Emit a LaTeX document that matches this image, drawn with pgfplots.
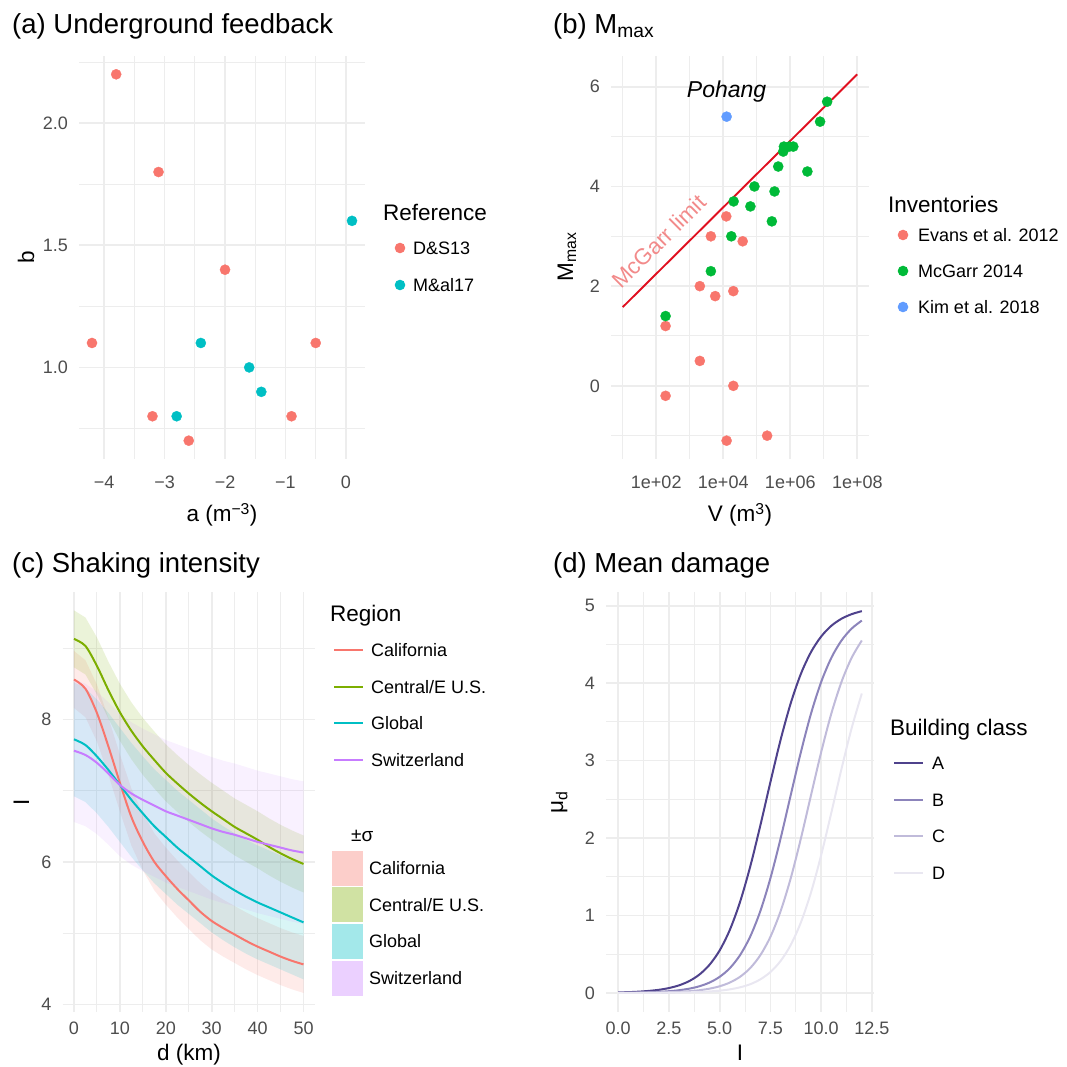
\documentclass[border=0pt]{standalone}
\usepackage{fontspec}
\setmainfont{Liberation Sans}
\usepackage{pgfplots}
\usepackage{pgfplotstable}
\pgfplotsset{compat=1.18}

\definecolor{gridgray}{HTML}{EDEDED}
\definecolor{tickgray}{HTML}{4D4D4D}
\definecolor{hueRed}{HTML}{F8766D}
\definecolor{hueCyan}{HTML}{00BFC4}
\definecolor{hueGreen}{HTML}{00BA38}
\definecolor{hueBlue}{HTML}{619CFF}
\definecolor{hueOlive}{HTML}{7CAE00}
\definecolor{huePurple}{HTML}{C77CFF}
\definecolor{limitRed}{HTML}{E01020}
\definecolor{limitText}{HTML}{F28A8A}
\definecolor{classA}{HTML}{4F428C}
\definecolor{classB}{HTML}{8C84BB}
\definecolor{classC}{HTML}{C0BBDA}
\definecolor{classD}{HTML}{E9E7F1}

\newcommand{\tickfont}{\fontsize{18}{21}\selectfont}
\newcommand{\labfont}{\fontsize{22.5}{26}\selectfont}
\newcommand{\titfont}{\fontsize{27.5}{32}\selectfont}

% ---------------- data ----------------
% (a) feedback parameters
\pgfplotstableread{
a b
-3.8 2.2
-3.1 1.8
-2.0 1.4
-4.2 1.1
-0.5 1.1
-3.2 0.8
-0.9 0.8
-2.6 0.7
}\dsThirteen
\pgfplotstableread{
a b
0.1 1.6
-2.4 1.1
-1.6 1.0
-1.4 0.9
-2.8 0.8
}\malSeventeen

% (b) injected volume vs maximum magnitude
\pgfplotstableread{
V M
190 1.2
190 -0.2
2000 2.0
2000 0.5
4270 3.0
5750 1.8
12300 3.4
12600 -1.1
20000 1.9
20000 0.0
38000 2.9
204000 -1.0
}\evans
\pgfplotstableread{
V M
190 1.4
4270 2.3
17400 3.0
20400 3.7
64600 3.6
85100 4.0
282000 3.3
339000 3.9
437000 4.4
617000 4.7
646000 4.8
933000 4.8
1230000 4.8
3240000 4.3
7760000 5.3
12600000 5.7
}\mcgarr
\pgfplotstableread{
V M
12600 5.4
}\kim

% (c) intensity attenuation (mean curves)
\pgfplotstableread{
d cal cen glo swi
0    8.56 9.13 7.72 7.56
2.5  8.43 9.03 7.64 7.50
5    8.09 8.75 7.48 7.39
7.5  7.62 8.41 7.29 7.24
10   7.11 8.10 7.08 7.08
12.5 6.63 7.84 6.87 6.96
15   6.28 7.62 6.68 6.87
17.5 6.00 7.43 6.50 6.79
20   5.80 7.25 6.35 6.71
22.5 5.62 7.10 6.20 6.65
25   5.46 6.96 6.07 6.59
27.5 5.30 6.83 5.94 6.53
30   5.17 6.71 5.81 6.47
32.5 5.07 6.60 5.70 6.42
35   4.98 6.49 5.60 6.38
37.5 4.89 6.40 5.51 6.33
40   4.81 6.31 5.43 6.28
42.5 4.74 6.21 5.36 6.24
45   4.67 6.12 5.29 6.20
47.5 4.61 6.04 5.22 6.16
50   4.56 5.97 5.15 6.13
}\shake

% (d) mean damage grade per building class
\pgfplotstableread{
I A B C D
0    0.007 0.002 0.001 0.000
0.5  0.010 0.004 0.002 0.001
1    0.016 0.006 0.002 0.001
1.5  0.026 0.009 0.004 0.001
2    0.040 0.014 0.006 0.002
2.5  0.063 0.022 0.009 0.003
3    0.098 0.035 0.014 0.005
3.5  0.153 0.055 0.022 0.008
4    0.237 0.086 0.035 0.012
4.5  0.364 0.134 0.055 0.019
5    0.550 0.208 0.086 0.029
5.5  0.815 0.320 0.134 0.046
6    1.173 0.487 0.208 0.072
6.5  1.629 0.726 0.320 0.112
7    2.161 1.056 0.487 0.175
7.5  2.726 1.483 0.726 0.270
8    3.270 1.996 1.056 0.413
8.5  3.743 2.557 1.483 0.620
9    4.122 3.112 1.996 0.912
9.5  4.404 3.610 2.557 1.300
10   4.604 4.018 3.112 1.782
10.5 4.742 4.329 3.610 2.330
11   4.833 4.552 4.018 2.895
11.5 4.892 4.706 4.329 3.421
12   4.931 4.809 4.552 3.867
}\damage

\pgfplotsset{
  gg/.style={
    scale only axis,
    anchor=south west,
    axis line style={draw=none},
    major tick length=0pt,
    minor tick length=0pt,
    tick style={draw=none},
    grid=both,
    major grid style={draw=gridgray, line width=1.6pt},
    minor grid style={draw=gridgray, line width=1.0pt},
    tick label style={font=\tickfont, text=tickgray, inner sep=0pt},
    yticklabel style={anchor=east, xshift=-11pt},
    legend cell align=left,
    legend style={draw=none, fill=none, inner sep=0pt, outer sep=0pt,
      font=\tickfont, text=black, anchor=north west,
      at={(axis description cs:0,0)},
      nodes={inner sep=0pt, text height=13pt, text depth=0pt}},
  },
  dotkey/.style={legend image code/.code={%
      \path[draw=none, fill=none] (0pt,-6.5pt) rectangle (16pt,6.5pt);
      \path[draw=none, fill=#1] (8pt,0pt) circle (5.3pt);}},
  linekey/.style={legend image code/.code={%
      \path[draw=none, fill=none] (0pt,-6.5pt) rectangle (29pt,6.5pt);
      \path[draw=#1, line width=2pt] (0pt,0pt) -- (29pt,0pt);}},
  boxkey/.style={legend image code/.code={%
      \path[draw=none, fill=#1, fill opacity=0.36] (0pt,-17.5pt) rectangle (31pt,17.5pt);}},
  pts/.style={only marks, mark=*, mark size=5.1pt, color=#1,
      mark options={line width=0.3pt}, forget plot},
  band/.style={fill=#1, fill opacity=0.15, draw=none, forget plot},
}

\begin{document}
\begin{tikzpicture}
\path[use as bounding box] (0pt,0pt) rectangle (1067pt,1066pt);

% ---------- (a) Underground feedback ----------
\begin{axis}[gg, at={(79pt,607pt)}, width=286pt, height=403pt,
  xmin=-4.415, xmax=0.315, ymin=0.625, ymax=2.275,
  xtick={-4,-3,-2,-1,0}, xticklabels={−4,−3,−2,−1,0},
  minor xtick={-3.5,-2.5,-1.5,-0.5},
  ytick={1,1.5,2}, yticklabels={1.0,1.5,2.0},
  minor ytick={0.75,1.25,1.75,2.25},
  xticklabel style={yshift=-16.5pt},
  legend style={xshift=313pt, yshift=217.5pt, row sep=24pt,
    /tikz/every odd column/.append style={column sep=5pt}},
]
\addplot[pts=hueRed] table[x=a,y=b] {\dsThirteen};
\addplot[pts=hueCyan] table[x=a,y=b] {\malSeventeen};
\addlegendimage{dotkey=hueRed}\addlegendentry{D\&S13}
\addlegendimage{dotkey=hueCyan}\addlegendentry{M\&al17}
\end{axis}

% ---------- (b) Mmax ----------
\begin{axis}[gg, at={(611pt,607pt)}, width=258pt, height=403pt,
  xmode=log, log basis x=10,
  xmin=4.4668, xmax=2.2387e8, ymin=-1.4675, ymax=6.6175,
  xtick={1e2,1e4,1e6,1e8}, xticklabels={1e+02,1e+04,1e+06,1e+08},
  minor xtick={1e1,1e3,1e5,1e7},
  ytick={0,2,4,6}, yticklabels={0,2,4,6},
  minor ytick={-1,1,3,5},
  xticklabel style={yshift=-16.5pt},
  legend style={xshift=284pt, yshift=230.5pt, row sep=23pt,
    /tikz/every odd column/.append style={column sep=7pt}},
]
\addplot[limitRed, line width=1.9pt, forget plot] coordinates {(10,1.58) (1e8,6.25)};
\addplot[pts=hueRed] table[x=V,y=M] {\evans};
\addplot[pts=hueGreen] table[x=V,y=M] {\mcgarr};
\addplot[pts=hueBlue] table[x=V,y=M] {\kim};
\node[font=\fontsize{23}{26}\selectfont\itshape, inner sep=0pt] at (axis cs:12600,5.9) {Pohang};
\node[font=\labfont, text=limitText, rotate=44.9, inner sep=0pt] at (axis cs:120,2.9) {McGarr limit};
\addlegendimage{dotkey=hueRed}\addlegendentry{Evans et al. 2012}
\addlegendimage{dotkey=hueGreen}\addlegendentry{McGarr 2014}
\addlegendimage{dotkey=hueBlue}\addlegendentry{Kim et al. 2018}
\end{axis}

% ---------- (c) Shaking intensity ----------
\begin{axis}[gg, at={(62.5pt,54pt)}, width=252.5pt, height=420pt,
  xmin=-2.5, xmax=52.5, ymin=3.892, ymax=9.788,
  xtick={0,10,20,30,40,50}, xticklabels={0,10,20,30,40,50},
  minor xtick={5,15,25,35,45},
  ytick={4,6,8}, yticklabels={4,6,8},
  minor ytick={5,7,9},
  xticklabel style={yshift=-9.5pt},
  legend style={xshift=270.5pt, yshift=368.5pt, row sep=23.5pt,
    /tikz/every odd column/.append style={column sep=7pt}},
]
% +/- sigma bands: upper bound outwards, lower bound back
\addplot[band=hueRed] coordinates {
 (0,8.96) (2.5,8.83) (5,8.49) (7.5,8.02) (10,7.51) (12.5,7.03) (15,6.68) (17.5,6.40) (20,6.20) (22.5,6.02) (25,5.86)
 (27.5,5.70) (30,5.57) (32.5,5.47) (35,5.38) (37.5,5.29) (40,5.21) (42.5,5.14) (45,5.07) (47.5,5.01) (50,4.96)
 (50,4.16) (47.5,4.21) (45,4.27) (42.5,4.34) (40,4.41) (37.5,4.49) (35,4.58) (32.5,4.67) (30,4.77) (27.5,4.90)
 (25,5.06) (22.5,5.22) (20,5.40) (17.5,5.60) (15,5.88) (12.5,6.23) (10,6.71) (7.5,7.22) (5,7.69) (2.5,8.03) (0,8.16)
} -- cycle;
\addplot[band=hueOlive] coordinates {
 (0,9.53) (2.5,9.43) (5,9.15) (7.5,8.81) (10,8.50) (12.5,8.24) (15,8.02) (17.5,7.83) (20,7.65) (22.5,7.50) (25,7.36)
 (27.5,7.23) (30,7.11) (32.5,7.00) (35,6.89) (37.5,6.80) (40,6.71) (42.5,6.61) (45,6.52) (47.5,6.44) (50,6.37)
 (50,5.57) (47.5,5.64) (45,5.72) (42.5,5.81) (40,5.91) (37.5,6.00) (35,6.09) (32.5,6.20) (30,6.31) (27.5,6.43)
 (25,6.56) (22.5,6.70) (20,6.85) (17.5,7.03) (15,7.22) (12.5,7.44) (10,7.70) (7.5,8.01) (5,8.35) (2.5,8.63) (0,8.73)
} -- cycle;
\addplot[band=hueCyan] coordinates {
 (0,8.52) (2.5,8.44) (5,8.28) (7.5,8.09) (10,7.88) (12.5,7.67) (15,7.48) (17.5,7.30) (20,7.15) (22.5,7.00) (25,6.87)
 (27.5,6.74) (30,6.61) (32.5,6.50) (35,6.40) (37.5,6.31) (40,6.23) (42.5,6.16) (45,6.09) (47.5,6.02) (50,5.95)
 (50,4.35) (47.5,4.42) (45,4.49) (42.5,4.56) (40,4.63) (37.5,4.71) (35,4.80) (32.5,4.90) (30,5.01) (27.5,5.14)
 (25,5.27) (22.5,5.40) (20,5.55) (17.5,5.70) (15,5.88) (12.5,6.07) (10,6.28) (7.5,6.49) (5,6.68) (2.5,6.84) (0,6.92)
} -- cycle;
\addplot[band=huePurple, fill opacity=0.11] coordinates {
 (0,8.56) (2.5,8.50) (5,8.39) (7.5,8.24) (10,8.08) (12.5,7.96) (15,7.87) (17.5,7.79) (20,7.71) (22.5,7.65) (25,7.59)
 (27.5,7.53) (30,7.47) (32.5,7.42) (35,7.38) (37.5,7.33) (40,7.28) (42.5,7.24) (45,7.20) (47.5,7.16) (50,7.13)
 (50,5.13) (47.5,5.16) (45,5.20) (42.5,5.24) (40,5.28) (37.5,5.33) (35,5.38) (32.5,5.42) (30,5.47) (27.5,5.53)
 (25,5.59) (22.5,5.65) (20,5.71) (17.5,5.79) (15,5.87) (12.5,5.96) (10,6.08) (7.5,6.24) (5,6.39) (2.5,6.50) (0,6.56)
} -- cycle;
\addplot[hueRed, line width=2pt, smooth, tension=0.5, forget plot] table[x=d,y=cal] {\shake};
\addplot[hueOlive, line width=2pt, smooth, tension=0.5, forget plot] table[x=d,y=cen] {\shake};
\addplot[hueCyan, line width=2pt, smooth, tension=0.5, forget plot] table[x=d,y=glo] {\shake};
\addplot[huePurple, line width=2pt, smooth, tension=0.5, forget plot] table[x=d,y=swi] {\shake};
\addlegendimage{linekey=hueRed}\addlegendentry{California}
\addlegendimage{linekey=hueOlive}\addlegendentry{Central/E U.S.}
\addlegendimage{linekey=hueCyan}\addlegendentry{Global}
\addlegendimage{linekey=huePurple}\addlegendentry{Switzerland}
\end{axis}
% second key of (c): the sigma bands
\begin{axis}[gg, hide axis, at={(62.5pt,54pt)}, width=252.5pt, height=420pt,
  xmin=0, xmax=1, ymin=0, ymax=1,
  legend style={xshift=269.5pt, yshift=161.5pt, row sep=1.7pt,
    /tikz/every odd column/.append style={column sep=6pt}},
]
\addplot[draw=none, forget plot] coordinates {(0,0) (1,1)};
\addlegendimage{boxkey=hueRed}\addlegendentry{California}
\addlegendimage{boxkey=hueOlive}\addlegendentry{Central/E U.S.}
\addlegendimage{boxkey=hueCyan}\addlegendentry{Global}
\addlegendimage{boxkey=huePurple}\addlegendentry{Switzerland}
\end{axis}

% ---------- (d) Mean damage ----------
\begin{axis}[gg, at={(606pt,54pt)}, width=268pt, height=420pt,
  xmin=-0.6, xmax=12.6, ymin=-0.2465, ymax=5.178,
  xtick={0,2.5,5,7.5,10,12.5}, xticklabels={0.0,2.5,5.0,7.5,10.0,12.5},
  minor xtick={1.25,3.75,6.25,8.75,11.25},
  ytick={0,1,2,3,4,5}, yticklabels={0,1,2,3,4,5},
  minor ytick={0.5,1.5,2.5,3.5,4.5},
  xticklabel style={yshift=-9.5pt},
  legend style={xshift=287pt, yshift=255.5pt, row sep=23.5pt,
    /tikz/every odd column/.append style={column sep=8pt}},
]
\addplot[classA, line width=2pt, smooth, forget plot] table[x=I,y=A] {\damage};
\addplot[classB, line width=2pt, smooth, forget plot] table[x=I,y=B] {\damage};
\addplot[classC, line width=2pt, smooth, forget plot] table[x=I,y=C] {\damage};
\addplot[classD, line width=2pt, smooth, forget plot] table[x=I,y=D] {\damage};
\addlegendimage{linekey=classA}\addlegendentry{A}
\addlegendimage{linekey=classB}\addlegendentry{B}
\addlegendimage{linekey=classC}\addlegendentry{C}
\addlegendimage{linekey=classD}\addlegendentry{D}
\end{axis}

% ---------- titles and axis titles ----------
\begin{scope}[every node/.style={inner sep=0pt}]
\node[font=\titfont, anchor=base west] at (12pt,1032pt) {(a) Underground feedback};
\node[font=\titfont, anchor=base west] at (553pt,1032pt) {(b) M\textsubscript{max}};
\node[font=\titfont, anchor=base west] at (12pt,493pt) {(c) Shaking intensity};
\node[font=\titfont, anchor=base west] at (553pt,493pt) {(d) Mean damage};

\node[font=\labfont, anchor=base] at (222pt,544pt) {a (m\textsuperscript{−3})};
\node[font=\labfont, anchor=base] at (740pt,544pt) {V (m\textsuperscript{3})};
\node[font=\labfont, anchor=base] at (189pt,6pt) {d (km)};
\node[font=\labfont, anchor=base] at (740pt,6pt) {I};

\node[font=\labfont, anchor=base, rotate=90] at (34pt,809pt) {b};
\node[font=\labfont, anchor=base, rotate=90] at (573pt,809pt) {M\textsubscript{max}};
\node[font=\labfont, anchor=base, rotate=90] at (29pt,264pt) {I};
\node[font=\labfont, anchor=base, rotate=90] at (563pt,264pt) {μ\textsubscript{d}};

\node[font=\labfont, anchor=base west] at (383pt,845pt) {Reference};
\node[font=\labfont, anchor=base west] at (888pt,853pt) {Inventories};
\node[font=\labfont, anchor=base west] at (330pt,444pt) {Region};
\node[font=\fontsize{19}{22}\selectfont, anchor=base west] at (351pt,225pt) {±σ};
\node[font=\labfont, anchor=base west] at (890pt,331pt) {Building class};
\end{scope}
\end{tikzpicture}
\end{document}
